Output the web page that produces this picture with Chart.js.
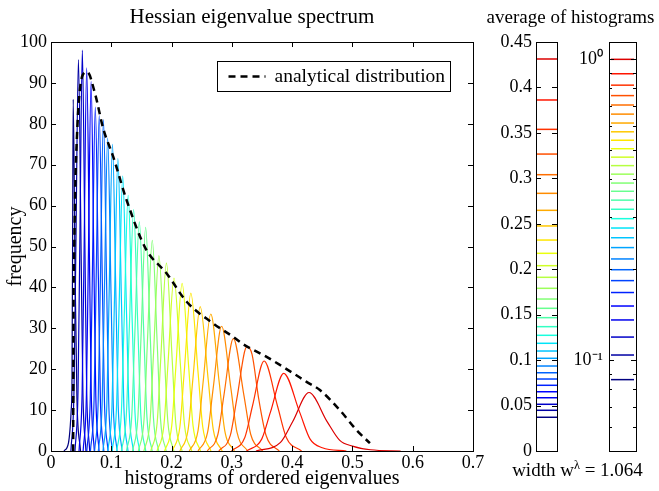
<!DOCTYPE html>
<html>
<head>
<meta charset="utf-8">
<script src="https://cdn.jsdelivr.net/npm/chart.js@4.4.1/dist/chart.umd.min.js"></script>
<style>
  body { margin: 0; background: #fff; }
  #wrap { position: relative; width: 659px; height: 491px; font-family: 'Liberation Serif', 'Times New Roman', serif; color: #000; }
  canvas { position: absolute; top: 0; }
  .lbl { position: absolute; text-align: center; font-size: 19px; line-height: 22px; white-space: nowrap; }
  .lbl sup { font-size: 0.65em; line-height: 0; vertical-align: 0.6em; }
</style>
</head>
<body>
<div id="wrap">
  <canvas id="main" width="530" height="491" style="left:0"></canvas>
  <canvas id="lin" width="90" height="491" style="left:480px"></canvas>
  <canvas id="log" width="89" height="491" style="left:570px"></canvas>
  <div class="lbl" style="left:52px;top:5px;width:400px;font-size:21px">Hessian eigenvalue spectrum</div>
  <div class="lbl" style="left:470px;top:6px;width:201px">average of histograms</div>
  <div class="lbl" style="left:477px;top:459px;width:201px">width w<sup>λ</sup> = 1.064</div>
</div>
<script>
// histograms of the ordered eigenvalues as [eigenvalue, frequency]
const histograms = [
  [[0.0215,0],[0.0290,2],[0.0335,10],[0.0348,17],[0.0358,50],[0.0368,86],[0.0400,43],[0.0430,13],[0.0490,0]],
  [[0.0330,0],[0.0381,14.4],[0.0411,47.9],[0.0455,95.7],[0.0500,47.9],[0.0529,14.4],[0.0580,0]],
  [[0.0398,0],[0.0448,14.7],[0.0477,49],[0.0520,98],[0.0563,49],[0.0592,14.7],[0.0642,0]],
  [[0.0465,0],[0.0516,14.1],[0.0547,46.9],[0.0592,93.7],[0.0638,46.9],[0.0668,14.1],[0.0719,0]],
  [[0.0533,0],[0.0587,13.6],[0.0618,45.2],[0.0665,90.4],[0.0712,45.2],[0.0743,13.6],[0.0797,0]],
  [[0.0594,0],[0.0651,12.6],[0.0685,42.1],[0.0735,84.1],[0.0786,42.1],[0.0819,12.6],[0.0876,0]],
  [[0.0654,0],[0.0714,12.3],[0.0748,41],[0.0800,82],[0.0852,41],[0.0886,12.3],[0.0946,0]],
  [[0.0723,0],[0.0783,12.2],[0.0818,40.5],[0.0870,81],[0.0923,40.5],[0.0957,12.2],[0.1017,0]],
  [[0.0785,0],[0.0848,11.5],[0.0885,38.3],[0.0940,76.5],[0.0996,38.3],[0.1032,11.5],[0.1096,0]],
  [[0.0862,0],[0.0926,11.3],[0.0963,37.5],[0.1020,75],[0.1077,37.5],[0.1114,11.3],[0.1178,0]],
  [[0.0943,0],[0.1011,10.7],[0.1051,35.8],[0.1110,71.5],[0.1170,35.8],[0.1209,10.7],[0.1277,0]],
  [[0.1014,0],[0.1085,10.1],[0.1127,33.6],[0.1190,67.2],[0.1253,33.6],[0.1295,10.1],[0.1366,0]],
  [[0.1090,0],[0.1167,9.4],[0.1212,31.3],[0.1280,62.5],[0.1348,31.3],[0.1393,9.4],[0.1470,0]],
  [[0.1168,0],[0.1250,8.9],[0.1298,29.5],[0.1370,59],[0.1442,29.5],[0.1490,8.9],[0.1572,0]],
  [[0.1252,0],[0.1339,8.4],[0.1389,28],[0.1465,56],[0.1541,28],[0.1591,8.4],[0.1678,0]],
  [[0.1353,0],[0.1441,8.2],[0.1492,27.4],[0.1570,54.7],[0.1648,27.4],[0.1699,8.2],[0.1787,0]],
  [[0.1449,0],[0.1543,7.7],[0.1597,25.8],[0.1680,51.5],[0.1763,25.8],[0.1817,7.7],[0.1911,0]],
  [[0.1541,0],[0.1642,7.2],[0.1701,23.9],[0.1790,47.8],[0.1879,23.9],[0.1938,7.2],[0.2039,0]],
  [[0.1656,0],[0.1761,6.9],[0.1822,23],[0.1915,46],[0.2008,23],[0.2069,6.9],[0.2174,0]],
  [[0.1759,0],[0.1873,6.3],[0.1940,21.2],[0.2040,42.3],[0.2146,21.2],[0.2215,6.3],[0.2335,0]],
  [[0.1885,0],[0.2003,6.2],[0.2071,20.5],[0.2175,41],[0.2284,20.5],[0.2356,6.2],[0.2480,0]],
  [[0.2012,0],[0.2137,5.8],[0.2210,19.3],[0.2320,38.6],[0.2439,19.3],[0.2518,5.8],[0.2653,0]],
  [[0.2138,0],[0.2275,5.3],[0.2354,17.7],[0.2475,35.3],[0.2606,17.7],[0.2691,5.3],[0.2839,0]],
  [[0.2294,0],[0.2439,5],[0.2523,16.8],[0.2650,33.5],[0.2790,16.8],[0.2882,5],[0.3042,0]],
  [[0.2439,0],[0.2598,4.6],[0.2690,15.3],[0.2830,30.5],[0.2984,15.3],[0.3085,4.6],[0.3260,0]],
  [[0.2592,0],[0.2769,4.1],[0.2870,13.8],[0.3025,27.5],[0.3198,13.8],[0.3312,4.1],[0.3510,0]],
  [[0.2784,0],[0.2974,3.8],[0.3083,12.8],[0.3250,25.5],[0.3335,23.6],[0.3445,12.8],[0.3568,3.8],[0.3786,0]],
  [[0.2995,0],[0.3215,3.3],[0.3342,11],[0.3535,22],[0.3757,11],[0.3903,3.3],[0.4156,0]],
  [[0.3244,0],[0.3495,2.9],[0.3640,9.5],[0.3860,19],[0.4124,9.5],[0.4298,2.9],[0.4500,0.8],[0.4900,0]],
  [[0.3400,0],[0.3807,2.1],[0.4010,7.2],[0.4280,14.3],[0.4580,7.2],[0.4790,2.6],[0.5000,1.2],[0.5300,0.3],[0.5800,0]]
];

// analytical distribution (dashed)
const analyticX = [0.0368,0.0372,0.0385,0.0405,0.0428,0.0464,0.0525,0.0600,0.0730,0.0867,0.1033,0.1255,0.1570,0.1919,0.2250,0.2690,0.3023,0.3189,0.3577,0.4018,0.4240,0.4461,0.4790,0.5070,0.5290];
const analyticY = [0,30,49,66,76,86,91.9,92.7,87.4,78.8,71.9,61.3,49.5,43.4,36.5,31.2,27.9,26.1,23.0,19.0,16.9,14.9,10.0,5.1,1.9];
const analyticLabel = 'analytical distribution';

// average of each histogram (side panels)
const meanEig = [0.0371,0.0448,0.0514,0.0586,0.0652,0.0723,0.0792,0.0861,0.0935,0.1020,0.1100,0.1185,0.1273,0.1368,0.1467,0.1570,0.1672,0.1790,0.1911,0.2039,0.2175,0.2321,0.2476,0.2648,0.2835,0.3040,0.3267,0.3539,0.3862,0.4313];

const fontFam = "'Liberation Serif', 'Times New Roman', serif";
Chart.defaults.font.family = fontFam;
Chart.defaults.color = '#000';

// matlab style jet colours
function jet(t) {
  const ramp = pts => {
    for (let k = 1; k < pts.length; k++) {
      if (t <= pts[k][0]) {
        const [x0, y0] = pts[k - 1], [x1, y1] = pts[k];
        return y0 + (y1 - y0) * (t - x0) / (x1 - x0);
      }
    }
    return pts[pts.length - 1][1];
  };
  const r = ramp([[0,0],[0.35,0],[0.66,1],[0.89,1],[1,0.5]]);
  const g = ramp([[0,0],[0.125,0],[0.375,1],[0.64,1],[0.91,0],[1,0]]);
  const b = ramp([[0,0.5],[0.11,1],[0.34,1],[0.65,0],[1,0]]);
  return `rgb(${Math.round(r*255)},${Math.round(g*255)},${Math.round(b*255)})`;
}
// the last histogram is a plain red, not the dark end of the map
const colors = meanEig.map((v, i) => jet(0.92 * i / (meanEig.length - 1)));

// box round the plot area plus inward ticks on every side
const boxTicks = {
  id: 'boxTicks',
  afterDatasetsDraw(chart, args, opts) {
    const {ctx, chartArea: a} = chart;
    const len = opts.len || 5;
    ctx.save();
    ctx.strokeStyle = '#000';
    ctx.lineWidth = 1;
    ctx.beginPath();
    if (opts.xTicks) {
      const sx = chart.scales.x;
      sx.ticks.forEach(t => {
        const p = Math.round(sx.getPixelForValue(t.value)) + 0.5;
        ctx.moveTo(p, a.bottom); ctx.lineTo(p, a.bottom - len);
        ctx.moveTo(p, a.top); ctx.lineTo(p, a.top + len);
      });
    }
    const sy = chart.scales.y;
    sy.ticks.forEach(t => {
      let l = len;
      if (opts.log) {
        const e = Math.floor(Math.log10(t.value) + 1e-9);
        const m = t.value / Math.pow(10, e);
        if (Math.abs(m - Math.round(m)) > 1e-6) return;
        if (Math.round(m) !== 1) l = opts.minorLen;
      }
      const p = Math.round(sy.getPixelForValue(t.value)) + 0.5;
      ctx.moveTo(a.left, p); ctx.lineTo(a.left + l, p);
      ctx.moveTo(a.right, p); ctx.lineTo(a.right - l, p);
    });
    ctx.stroke();
    ctx.strokeRect(Math.round(a.left) + 0.5, Math.round(a.top) + 0.5, Math.round(a.right - a.left), Math.round(a.bottom - a.top));
    ctx.restore();
  }
};

// framed legend in the upper right of the main plot
const dashLegend = {
  id: 'dashLegend',
  afterDraw(chart) {
    const {ctx, chartArea: a} = chart;
    const ds = chart.data.datasets[0];
    const w = 233, h = 30;
    const x0 = Math.round(a.right) - 23 - w + 0.5, y0 = Math.round(a.top) + 19 + 0.5;
    ctx.save();
    ctx.fillStyle = '#fff';
    ctx.fillRect(x0, y0, w, h);
    ctx.strokeStyle = '#000';
    ctx.lineWidth = 1;
    ctx.strokeRect(x0, y0, w, h);
    ctx.setLineDash(ds.borderDash);
    ctx.lineWidth = ds.borderWidth;
    ctx.beginPath();
    ctx.moveTo(x0 + 11, y0 + h / 2);
    ctx.lineTo(x0 + 48, y0 + h / 2);
    ctx.stroke();
    ctx.setLineDash([]);
    ctx.fillStyle = '#000';
    ctx.font = '19.5px ' + fontFam;
    ctx.textBaseline = 'middle';
    ctx.fillText(ds.label, x0 + 57, y0 + h / 2);
    ctx.restore();
  }
};

const curveSets = histograms.map((pts, i) => ({
  data: pts,
  borderColor: colors[i],
  borderWidth: 1.2,
  cubicInterpolationMode: 'monotone',
  pointRadius: 0,
  order: 100 - i
}));

// tick text like 0.05, 0.1, 0.15 (no trailing zeros)
const plainTick = v => String(+Number(v).toFixed(3));

new Chart(document.getElementById('main'), {
  type: 'line',
  data: {
    datasets: [{
      label: analyticLabel,
      data: analyticX.map((x, i) => [x, analyticY[i]]),
      borderColor: '#000',
      borderWidth: 2.5,
      borderDash: [7, 5],
      cubicInterpolationMode: 'monotone',
      pointRadius: 0,
      order: 0
    }, ...curveSets]
  },
  options: {
    responsive: false,
    animation: false,
    devicePixelRatio: 1,
    layout: { padding: { left: 0, right: 57, top: 42, bottom: 0 } },
    plugins: { legend: { display: false }, tooltip: { enabled: false }, boxTicks: { len: 5, xTicks: true } },
    scales: {
      x: {
        type: 'linear', min: 0, max: 0.7,
        grid: { display: false, drawTicks: false }, border: { display: false },
        ticks: { stepSize: 0.1, padding: 1, font: { size: 18 }, maxRotation: 0, autoSkip: false, callback: plainTick },
        title: { display: true, text: 'histograms of ordered eigenvalues', font: { size: 20 }, padding: { top: 0, bottom: 0 } },
        afterFit: s => { s.height = 40; }
      },
      y: {
        type: 'linear', min: 0, max: 100,
        grid: { display: false, drawTicks: false }, border: { display: false },
        ticks: { stepSize: 10, padding: 4, font: { size: 18 }, autoSkip: false },
        title: { display: true, text: 'frequency', font: { size: 20 }, padding: { top: 4, bottom: 0 } },
        afterFit: s => { s.width = 51; }
      }
    }
  },
  plugins: [boxTicks, dashLegend]
});

// linear panel of the averages
new Chart(document.getElementById('lin'), {
  type: 'scatter',
  data: {
    datasets: [{
      data: meanEig.map(v => ({ x: 0.5, y: v })),
      pointStyle: 'line', pointRadius: 11.5, pointBorderWidth: 1.5,
      pointBorderColor: colors, pointBackgroundColor: colors
    }]
  },
  options: {
    responsive: false, animation: false, devicePixelRatio: 1,
    layout: { padding: { left: 0, right: 7, top: 42, bottom: 40 } },
    plugins: { legend: { display: false }, tooltip: { enabled: false }, boxTicks: { len: 5 } },
    scales: {
      x: { type: 'linear', min: 0, max: 1, display: false },
      y: {
        type: 'linear', min: 0, max: 0.45,
        grid: { display: false, drawTicks: false }, border: { display: false },
        ticks: { stepSize: 0.05, padding: 4, font: { size: 18 }, autoSkip: false, callback: plainTick },
        afterFit: s => { s.width = 56; }
      }
    }
  },
  plugins: [boxTicks]
});

// log panel, averages relative to the largest one
const maxMean = Math.max(...meanEig);
const supDigits = { '0': '⁰', '1': '¹', '2': '²', '-': '⁻' };
new Chart(document.getElementById('log'), {
  type: 'scatter',
  data: {
    datasets: [{
      data: meanEig.map(v => ({ x: 0.5, y: v / maxMean })),
      pointStyle: 'line', pointRadius: 11.5, pointBorderWidth: 1.5,
      pointBorderColor: colors, pointBackgroundColor: colors
    }]
  },
  options: {
    responsive: false, animation: false, devicePixelRatio: 1,
    layout: { padding: { left: 0, right: 23, top: 42, bottom: 40 } },
    plugins: { legend: { display: false }, tooltip: { enabled: false }, boxTicks: { len: 5, minorLen: 3, log: true } },
    scales: {
      x: { type: 'linear', min: 0, max: 1, display: false },
      y: {
        type: 'logarithmic', min: 0.0498, max: 1.142,
        grid: { display: false, drawTicks: false }, border: { display: false },
        ticks: {
          padding: 6, font: { size: 18 }, autoSkip: false,
          callback: v => {
            const e = Math.log10(v);
            if (Math.abs(e - Math.round(e)) > 1e-9) return '';
            return '10' + String(Math.round(e)).split('').map(c => supDigits[c]).join('');
          }
        },
        afterFit: s => { s.width = 39; }
      }
    }
  },
  plugins: [boxTicks]
});
</script>
</body>
</html>
